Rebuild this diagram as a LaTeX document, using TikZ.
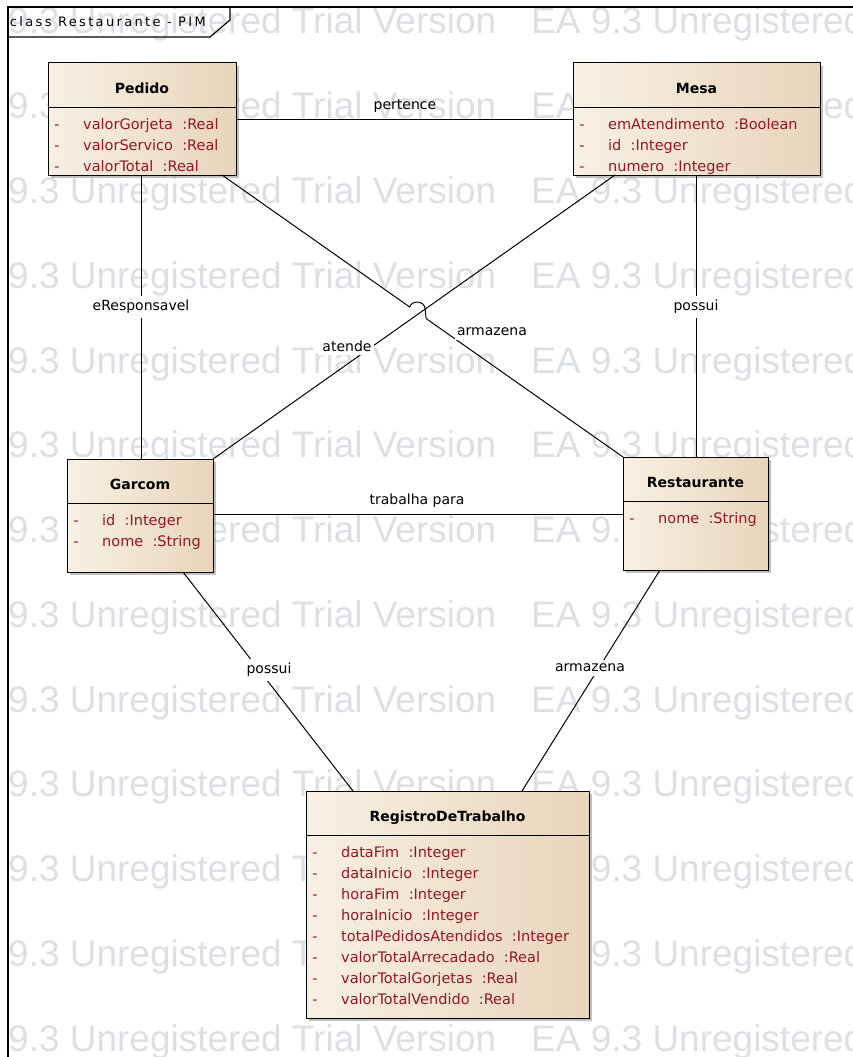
\documentclass[tikz,border=0pt]{standalone}
\usepackage{fontspec}
\setmainfont{DejaVu Sans}
\newfontfamily\wmfont{Liberation Sans}
\usetikzlibrary{calc,shadows}

\definecolor{boxL}{RGB}{248,240,228}
\definecolor{boxR}{RGB}{232,213,186}
\definecolor{attrred}{RGB}{150,20,40}
\definecolor{wmgray}{RGB}{220,223,228}

\newcommand\gap{\hspace{0.64em}}

\tikzset{
  classbox/.style={draw, line width=1pt, left color=boxL, right color=boxR,
    anchor=north west, inner sep=0pt, outer sep=0pt,
    drop shadow={shadow xshift=3pt, shadow yshift=-3pt, fill=black!45, opacity=0.55}},
  divider/.style={line width=1pt},
  hdr/.style={anchor=base, inner sep=0pt, font=\fontsize{14}{16}\selectfont\bfseries},
  attrdash/.style={anchor=base, inner sep=0pt, text=attrred, font=\fontsize{14.5}{17}\selectfont},
  attrname/.style={anchor=base west, inner sep=0pt, text=attrred, font=\fontsize{14.5}{17}\selectfont},
  assoc/.style={line width=1pt, black},
  lbl/.style={fill=white, inner xsep=2pt, inner ysep=4pt, font=\fontsize{14}{16}\selectfont},
  lblclear/.style={inner sep=1pt, font=\fontsize{14}{16}\selectfont},
  frameline/.style={line width=1.2pt},
  tabtxt/.style={inner sep=0pt, font=\fontsize{13}{15}\selectfont\addfontfeature{LetterSpace=18}},
  wm/.style={anchor=base west, inner sep=0pt, text=wmgray, font=\wmfont\fontsize{37}{40}\selectfont}
}

% #1 name, #2 x, #3 y, #4 width, #5 height, #6 title, #7 attribute list
\newcommand\umlclass[7]{%
  \node[classbox, minimum width=#4pt, minimum height=#5pt] (#1) at (#2,#3) {};
  \draw[divider] ($(#1.north west)+(0,44)$) -- ($(#1.north east)+(0,44)$);
  \node[hdr] (#1-title) at ($(#1.north)+(0,30)$) {#6};
  \foreach \a [count=\i from 0] in {#7} {
    \node[attrdash] (#1-d\i) at ($(#1.north west)+(9,{66+21*\i})$) {-};
    \node[attrname] (#1-a\i) at ($(#1.north west)+(35,{66+21*\i})$) {\a};
  }
}

\begin{document}
\begin{tikzpicture}[x=1pt,y=-1pt]
\useasboundingbox (0,0) rectangle (853,1057);

% background trial-version stamp
\begin{scope}
  \clip (0,0) rectangle (853,1057);
  \foreach \k in {0,...,12} {
    \node[wm] (wmL\k) at (8,{34+84.75*\k}) {9.3 Unregistered Trial Version};
    \node[wm] (wmR\k) at (531,{34+84.75*\k}) {EA 9.3 Unregistered};
  }
\end{scope}

% diagram frame with its name tab
\draw[frameline] (8,1060) -- (8,7) -- (860,7);
\draw[frameline] (8,37) -- (210,37) -- (230,20) -- (230,7);
\begin{scope}
  \clip (9,8) rectangle (209,36);
  \node[tabtxt, anchor=base east] (tab) at (206,27) {class Restaurante - PIM};
\end{scope}

% classes
\umlclass{pedido}{48}{63}{188}{112}{Pedido}
  {valorGorjeta\gap:Real, valorServico\gap:Real, valorTotal\gap:Real}
\umlclass{mesa}{573}{63}{247}{112}{Mesa}
  {emAtendimento\gap:Boolean, id\gap:Integer, numero\gap:Integer}
\umlclass{garcom}{67}{459}{146}{113}{Garcom}
  {id\gap:Integer, nome\gap:String}
\umlclass{restaurante}{623}{457}{145}{113}{Restaurante}
  {nome\gap:String}
\umlclass{registro}{306}{791}{283}{227}{RegistroDeTrabalho}
  {dataFim\gap:Integer, dataInicio\gap:Integer, horaFim\gap:Integer,
   horaInicio\gap:Integer, totalPedidosAtendidos\gap:Integer,
   valorTotalArrecadado\gap:Real, valorTotalGorjetas\gap:Real,
   valorTotalVendido\gap:Real}

% associations
\draw[assoc] ($(pedido.north east)+(0,56)$) -- ($(mesa.north west)+(0,56)$);
\coordinate (pResp) at ($(pedido.south west)+(93,0)$);
\draw[assoc] (pResp) -- (pResp |- garcom.north);
\coordinate (mPossui) at ($(mesa.south west)+(123,0)$);
\draw[assoc] (mPossui) -- (mPossui |- restaurante.north);
\coordinate (mAtende) at ($(mesa.south west)+(42,0)$);
\draw[assoc] (mAtende) -- (garcom.north east);
\coordinate (pArmazena) at ($(pedido.south west)+(174,0)$);
\coordinate (hopA) at ($(pArmazena)!0.468!(restaurante.north west)$);
\coordinate (hopB) at ($(pArmazena)!0.509!(restaurante.north west)$);
\draw[assoc] (pArmazena) -- (hopA)
  .. controls ($(hopA)+(2,-7)$) and ($(hopB)+(-2,-18)$) .. ($(hopB)+(-1,-10)$)
  -- (hopB) -- (restaurante.north west);
\coordinate (gTrabalha) at ($(garcom.north east)+(0,55)$);
\draw[assoc] (gTrabalha) -- (gTrabalha -| restaurante.west);
\draw[assoc] ($(garcom.south west)+(116,0)$) -- ($(registro.north west)+(47,0)$);
\draw[assoc] ($(restaurante.south west)+(37,0)$) -- ($(registro.north west)+(216,0)$);

% association names
\node[lblclear] (lPertence) at (405,106) {pertence};
\node[lbl] (lResp) at (141,307) {eResponsavel};
\node[lbl] (lPossuiA) at (696,307) {possui};
\node[lbl] (lAtende) at (347,346) {atende};
\node[lbl] (lArmazenaA) at (492,332) {armazena};
\node[lblclear] (lTrabalha) at (417,501) {trabalha para};
\node[lbl] (lPossuiB) at (269,670) {possui};
\node[lbl] (lArmazenaB) at (590,668) {armazena};
\end{tikzpicture}
\end{document}
